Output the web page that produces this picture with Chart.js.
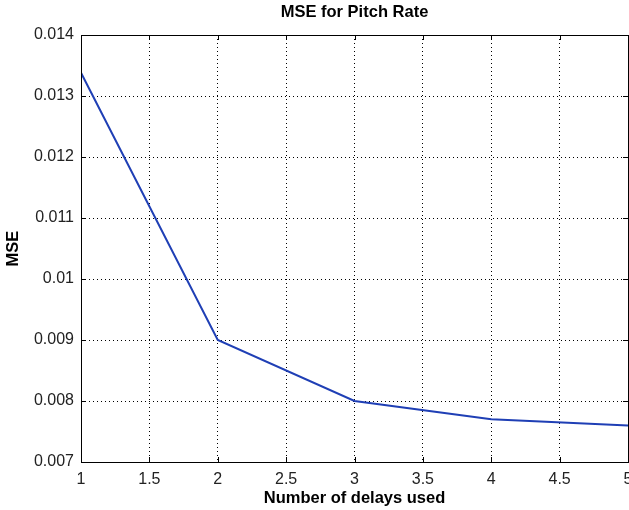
<!DOCTYPE html>
<html>
<head>
<meta charset="utf-8">
<script src="https://cdn.jsdelivr.net/npm/chart.js@4/dist/chart.umd.min.js"></script>
<style>
  html, body { margin: 0; padding: 0; background: #fff; }
  #wrap { width: 629px; height: 510px; }
</style>
</head>
<body>
<div id="wrap"><canvas id="c" width="629" height="510"></canvas></div>
<script>
// Mean squared error of the pitch-rate model vs. number of delays
const delays = [1, 2, 3, 4, 5];
const mseValues = [0.01338, 0.0090, 0.0080, 0.0077, 0.0076];

// Axis ticks
const xTicks = [1, 1.5, 2, 2.5, 3, 3.5, 4, 4.5, 5];
const xTickLabels = ['1', '1.5', '2', '2.5', '3', '3.5', '4', '4.5', '5'];
const yTicks = [0.007, 0.008, 0.009, 0.010, 0.011, 0.012, 0.013, 0.014];
const yTickLabels = ['0.007', '0.008', '0.009', '0.01', '0.011', '0.012', '0.013', '0.014'];

const FONT = '"Liberation Sans", Arial, Helvetica, sans-serif';

// Frame around the axes plus inward tick marks on all four sides
const boxPlugin = {
  id: 'axesBox',
  afterDatasetsDraw(chart) {
    const { ctx, chartArea: a, scales } = chart;
    ctx.save();
    ctx.strokeStyle = '#000';
    ctx.lineWidth = 1;
    ctx.setLineDash([]);
    const tl = 5;
    ctx.beginPath();
    xTicks.forEach(v => {
      const x = Math.round(scales.x.getPixelForValue(v)) + 0.5;
      ctx.moveTo(x, a.bottom); ctx.lineTo(x, a.bottom - tl);
      ctx.moveTo(x, a.top); ctx.lineTo(x, a.top + tl);
    });
    yTicks.forEach(v => {
      const y = Math.round(scales.y.getPixelForValue(v)) + 0.5;
      ctx.moveTo(a.left, y); ctx.lineTo(a.left + tl, y);
      ctx.moveTo(a.right, y); ctx.lineTo(a.right - tl, y);
    });
    ctx.stroke();
    ctx.strokeRect(Math.round(a.left) + 0.5, Math.round(a.top) + 0.5,
                   Math.round(a.right - a.left), Math.round(a.bottom - a.top));
    ctx.restore();
  }
};

new Chart(document.getElementById('c'), {
  type: 'line',
  data: {
    datasets: [{
      data: delays.map((d, i) => ({ x: d, y: mseValues[i] })),
      borderColor: '#1f3fb5',
      borderWidth: 2,
      pointRadius: 0,
      tension: 0,
      fill: false
    }]
  },
  options: {
    responsive: false,
    animation: false,
    events: [],
    layout: { padding: { left: 0, right: 1, top: 0, bottom: 0 } },
    plugins: {
      legend: { display: false },
      tooltip: { enabled: false },
      title: {
        display: true,
        text: 'MSE for Pitch Rate',
        fullSize: false,
        color: '#000',
        font: { family: FONT, size: 16.5, weight: 'bold' },
        padding: { top: 3, bottom: 12.2 }
      }
    },
    scales: {
      x: {
        type: 'linear',
        min: 1,
        max: 5,
        afterBuildTicks(scale) { scale.ticks = xTicks.map(v => ({ value: v })); },
        afterFit(scale) {
          scale.height = 48;
          scale.paddingLeft = 0;
          scale.paddingRight = 0;
        },
        ticks: {
          autoSkip: false,
          maxRotation: 0,
          padding: 8,
          color: '#222',
          font: { family: FONT, size: 16 },
          callback: (v, i) => xTickLabels[i]
        },
        grid: { color: '#000', lineWidth: 1, drawTicks: false },
        border: { display: false, dash: [1, 3] },
        title: {
          display: true,
          text: 'Number of delays used',
          color: '#000',
          font: { family: FONT, size: 16.5, weight: 'bold' },
          padding: { top: 0, bottom: 2 }
        }
      },
      y: {
        type: 'linear',
        min: 0.007,
        max: 0.014,
        afterBuildTicks(scale) { scale.ticks = yTicks.map(v => ({ value: v })); },
        afterFit(scale) {
          scale.width = 81;
          scale.paddingTop = 0;
          scale.paddingBottom = 0;
        },
        ticks: {
          autoSkip: false,
          padding: 7,
          color: '#222',
          font: { family: FONT, size: 16 },
          callback: (v, i) => yTickLabels[i]
        },
        grid: { color: '#000', lineWidth: 1, drawTicks: false },
        border: { display: false, dash: [1, 3] },
        title: {
          display: true,
          text: 'MSE',
          color: '#000',
          font: { family: FONT, size: 16.5, weight: 'bold' },
          padding: { top: 4, bottom: 0 }
        }
      }
    }
  },
  plugins: [boxPlugin]
});
</script>
</body>
</html>
